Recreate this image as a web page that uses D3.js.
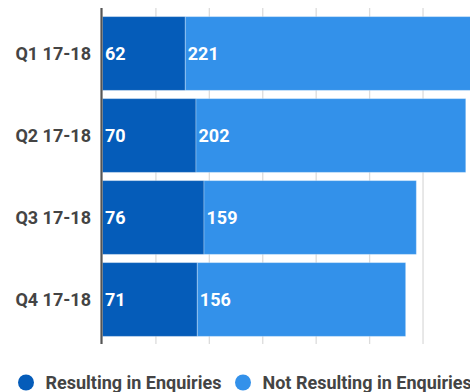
<!DOCTYPE html>
<html>
<head>
<meta charset="utf-8">
<script src="https://cdn.jsdelivr.net/npm/d3@7/dist/d3.min.js"></script>
<style>
  html, body { margin: 0; padding: 0; background: #fff; }
  svg { display: block; font-family: Roboto, "Noto Sans", sans-serif; }
</style>
</head>
<body>
<svg id="chart" width="470" height="392"></svg>
<script>
// Quarterly website visits split by outcome
const categories = ["Q1 17-18", "Q2 17-18", "Q3 17-18", "Q4 17-18"];
const resulting = [62, 70, 76, 71];
const notResulting = [221, 202, 159, 156];
const seriesNames = ["Resulting in Enquiries", "Not Resulting in Enquiries"];
const seriesColors = ["#055cb9", "#3391ea"];
const xTicks = [0, 40, 80, 120, 160, 200, 240, 280];

const svg = d3.select("#chart");

const x = d3.scaleLinear().domain([0, 280]).range([102.5, 102.5 + 280 * 1.3355]);
const y = d3.scaleBand().domain(categories).range([12.5, 340.5])
  .paddingInner(0.1).paddingOuter(0.05);

const rows = categories.map((c, i) => ({ cat: c, r: resulting[i], n: notResulting[i] }));
const stack = d3.stack().keys(["r", "n"])(rows);

// vertical gridlines
svg.append("g").selectAll("line")
  .data(xTicks.filter(t => t > 0))
  .join("line")
  .attr("x1", d => x(d)).attr("x2", d => x(d))
  .attr("y1", 8).attr("y2", 344)
  .attr("stroke", "#dcdcdc").attr("stroke-width", 1.3);

// stacked bars
const layers = svg.append("g").selectAll("g")
  .data(stack)
  .join("g")
  .attr("fill", (d, i) => seriesColors[i]);

layers.selectAll("rect")
  .data(d => d)
  .join("rect")
  .attr("x", d => x(d[0]))
  .attr("y", d => y(d.data.cat))
  .attr("width", d => x(d[1]) - x(d[0]))
  .attr("height", y.bandwidth())
  .attr("stroke", "#ffffff").attr("stroke-opacity", 0.3).attr("stroke-width", 1);

// value labels inside each segment
layers.selectAll("text")
  .data(d => d)
  .join("text")
  .attr("x", d => x(d[0]) + 2.5)
  .attr("y", d => y(d.data.cat) + y.bandwidth() / 2)
  .attr("dy", "0.34em")
  .attr("fill", "#fff")
  .attr("font-size", 18)
  .attr("font-weight", 700)
  .text(d => d[1] - d[0]);

// category axis line
svg.append("line")
  .attr("x1", 101.5).attr("x2", 101.5)
  .attr("y1", 8).attr("y2", 344)
  .attr("stroke", "#555").attr("stroke-width", 2.2);

// category labels
svg.append("g").selectAll("text")
  .data(categories)
  .join("text")
  .attr("x", 91)
  .attr("y", d => y(d) + y.bandwidth() / 2)
  .attr("dy", "0.36em")
  .attr("text-anchor", "end")
  .attr("fill", "#444")
  .attr("font-size", 18)
  .attr("font-weight", 700)
  .text(d => d);

// legend
const legendX = [26, 243];
const legend = svg.append("g").selectAll("g")
  .data(seriesNames)
  .join("g")
  .attr("transform", (d, i) => `translate(${legendX[i]},382.5)`);
legend.append("circle").attr("r", 8).attr("fill", (d, i) => seriesColors[i]);
legend.append("text")
  .attr("x", 19.5).attr("dy", "0.34em")
  .attr("fill", "#444")
  .attr("font-size", 18)
  .attr("font-weight", 700)
  .text(d => d);
</script>
</body>
</html>
